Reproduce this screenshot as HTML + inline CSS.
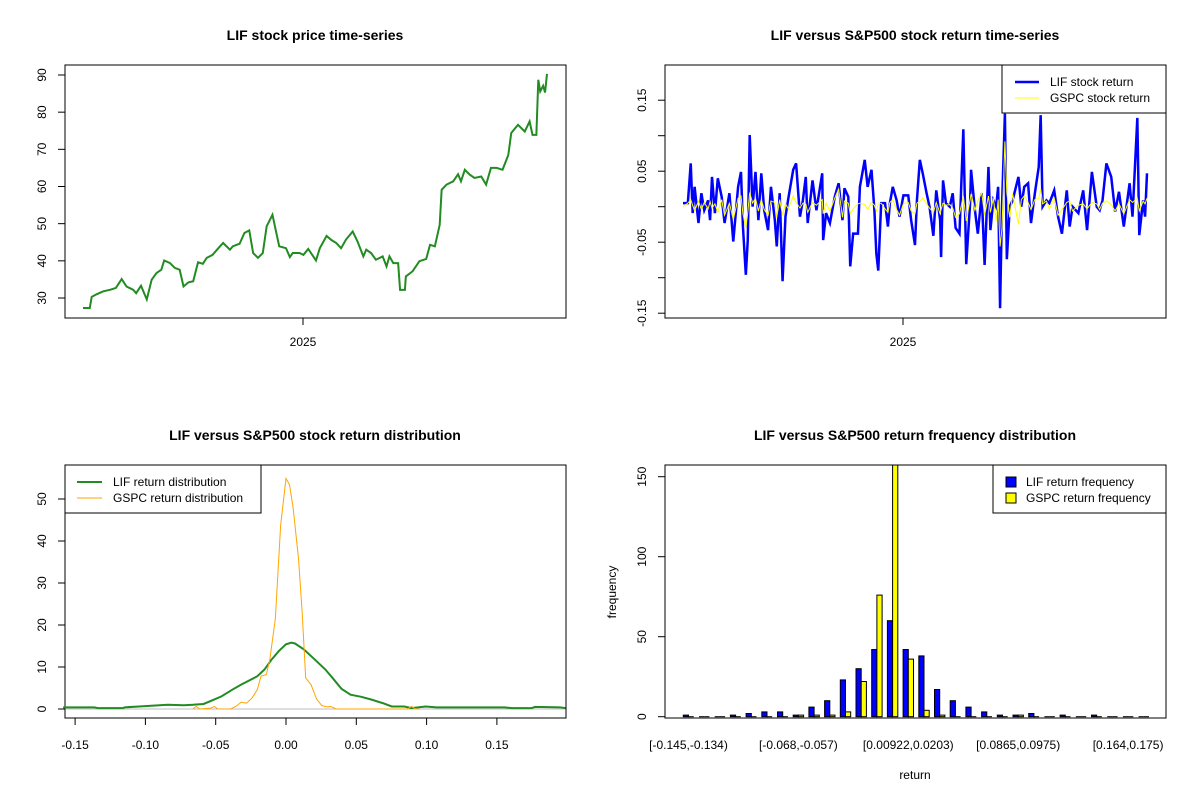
<!DOCTYPE html>
<html><head><meta charset="utf-8"><style>
html,body{margin:0;padding:0;background:#fff;}
svg{display:block;font-family:"Liberation Sans",Arial,sans-serif;}
</style></head><body>
<svg id="chart" width="1200" height="800" viewBox="0 0 1200 800" xmlns="http://www.w3.org/2000/svg"></svg>
<script>
// ---------- data ----------
const priceDay=[0,7,9,14,21,28,34,40,45,52,55,60,66,71,76,81,84,90,95,100,104,109,114,119,124,128,134,140,145,152,155,162,167,172,176,181,186,190,196,200,203,210,214,217,224,228,233,241,245,252,257,262,267,272,279,284,290,293,298,303,310,314,317,321,326,328,333,334,341,348,355,359,364,369,371,376,383,388,391,395,400,405,412,417,422,428,434,440,443,450,457,462,465,469,471,473,476,478,480];
const priceValue=[27.3,27.3,30.3,31,31.8,32.2,32.7,35.1,33.1,32.2,31.3,33.3,29.6,34.9,36.7,37.6,40.1,39.4,38.1,37.6,33.1,34.2,34.5,39.6,39.2,40.8,41.6,43.4,44.8,43.0,43.9,44.6,47.5,48.2,42.1,40.8,42.1,49.3,52.4,47.5,43.9,43.4,41.0,42.1,42.1,41.6,43.2,40.1,43.4,46.7,45.6,44.8,43.4,45.7,47.9,45.2,41.2,43.0,42.1,40.3,41.2,38.5,41.2,39.4,39.4,32.2,32.2,35.8,37.2,39.9,40.5,44.3,43.9,49.7,59.1,60.5,61.4,63.3,61.4,64.5,63.2,62.3,62.7,60.5,65,65,64.5,68.5,74.4,76.6,74.8,77.5,73.9,73.9,88.7,85.6,87.1,85.3,90.3];
const priceTicks=[30,40,50,60,70,80,90];
const retDay=[0,5,8,10,12,16,19,22,26,28,30,33,36,40,43,48,52,57,60,62,65,67,69,72,75,78,81,84,88,91,95,97,100,103,106,109,114,117,121,124,127,129,134,138,144,145,148,152,157,161,165,167,171,173,176,181,183,188,191,195,198,200,202,205,209,212,214,217,221,224,228,233,236,240,242,245,248,252,255,259,262,266,267,269,272,276,279,282,286,290,293,297,298,302,305,309,312,316,318,321,324,326,328,330,333,335,338,341,347,350,353,357,360,364,368,370,372,376,379,384,388,392,397,400,403,409,414,418,423,428,431,434,438,443,447,451,456,462,465,470,472,476,478,480];
const lifReturn=[.005,.005,.061,-.009,.028,-.023,.019,-.005,.009,-.019,.042,-.009,.040,.014,-.023,.019,-.049,.028,.049,-.028,-.096,-.047,.101,.000,.049,-.019,.047,-.005,-.033,.028,-.019,-.056,.019,-.105,-.014,.012,.052,.061,-.014,.009,.042,-.023,.037,-.005,.047,-.047,-.009,-.023,.014,.033,-.019,.026,.014,-.084,-.038,-.038,.028,.066,.028,.052,-.005,-.066,-.090,.005,.005,-.028,.005,.028,.009,-.014,.016,.016,-.019,-.054,.009,.066,.047,.019,.000,-.041,.023,-.019,-.071,.037,.005,.000,.019,-.030,-.038,.109,-.081,.005,.052,-.005,-.038,.019,-.082,.056,-.033,.009,.000,.028,-.143,.000,.131,-.074,.000,.009,.042,.000,.028,.033,-.023,.019,.056,.129,.000,.009,.005,.023,-.014,-.038,.023,-.028,.000,-.009,.023,-.033,.049,.000,-.005,.009,.061,.042,-.007,.021,-.028,.033,-.014,.125,-.040,.009,-.014,.047];
const gspcReturn=[.000,.005,.010,.002,-.006,.008,-.004,.006,-.003,.007,-.002,.004,-.008,.010,-.012,.005,-.018,.012,.015,-.010,-.030,-.008,.020,.005,.012,-.006,.010,-.004,-.012,.008,.006,-.015,.010,-.012,.004,-.003,.015,.006,-.002,.005,.004,-.008,.006,.002,.010,-.010,.005,-.006,.012,.025,-.015,.008,.005,-.010,-.003,.004,.005,.003,-.004,.006,.002,-.006,.004,.005,-.003,-.008,.006,.010,-.004,-.012,.004,.006,-.006,-.010,.005,.008,.012,.004,-.002,-.008,.006,-.010,-.004,.005,.002,.003,-.002,-.015,-.010,.015,-.020,.010,.018,-.005,.008,.020,-.012,.015,-.008,.012,-.020,.010,-.056,-.030,.092,.020,-.015,.018,-.025,.010,.015,.006,-.004,.010,.012,.025,.004,.008,-.003,.012,-.012,-.004,.006,.008,-.006,.002,.004,-.003,.006,.004,-.004,.005,.008,.003,-.006,.004,-.010,.010,.006,.012,-.006,.008,.004,.012];
const retTicks=[-0.15,-0.10,-0.05,0,0.05,0.10,0.15];
const retTickLabels=["-0.15","","-0.05","","0.05","","0.15"];
const lifDensX=[-0.1585,-0.1363,-0.1338,-0.116,-0.1147,-0.1045,-0.0943,-0.0841,-0.0726,-0.0663,-0.0586,-0.0522,-0.0459,-0.0382,-0.0319,-0.0255,-0.0204,-0.0153,-0.0102,-0.0051,0,0.0038,0.0064,0.0127,0.0204,0.0280,0.0331,0.0395,0.0459,0.0535,0.0612,0.0688,0.0752,0.0841,0.0892,0.0994,0.1070,0.1555,0.1606,0.1746,0.1771,0.1950,0.1988];
const lifDensY=[0.4,0.4,0.2,0.2,0.4,0.6,0.8,1.0,0.9,1.0,1.2,2.1,3.0,4.6,5.8,6.9,7.8,9.4,11.8,13.8,15.4,15.8,15.6,14.2,11.8,9.4,7.4,4.8,3.4,2.9,2.2,1.4,0.6,0.6,0.2,0.6,0.4,0.4,0.2,0.2,0.5,0.4,0.2];
const gspcDensX=[-0.0663,-0.0637,-0.0612,-0.0535,-0.0510,-0.0484,-0.0395,-0.0357,-0.0319,-0.0280,-0.0242,-0.0204,-0.0178,-0.0140,-0.0115,-0.0076,-0.0038,0,0.0025,0.0051,0.0089,0.0115,0.0140,0.0178,0.0217,0.0255,0.0293,0.0319,0.0357,0.0866,0.0892,0.0917,0.0943];
const gspcDensY=[0,0.6,0,0.2,0.6,0,0,0.6,1.6,1.4,2.6,4.6,7.8,8.2,11.8,21.4,43.8,54.9,53.4,47.8,35.8,23,7.4,5.8,2.4,0.8,0.5,0.6,0,0,0.6,0.1,0];
const densXTicks=[-0.15,-0.10,-0.05,0,0.05,0.10,0.15];
const densXLabels=["-0.15","-0.10","-0.05","0.00","0.05","0.10","0.15"];
const densYTicks=[0,10,20,30,40,50];
const binLabels=["[-0.145,-0.134)","[-0.068,-0.057)","[0.00922,0.0203)","[0.0865,0.0975)","[0.164,0.175)"];
const lifFreq=[1,0,0,1,2,3,3,1,6,10,23,30,42,60,42,38,17,10,6,3,1,1,2,0,1,0,1,0,0,0];
const gspcFreq=[0,0,0,0,0,0,0,1,1,1,3,22,76,165,36,4,1,0,0,0,0,1,0,0,0,0,0,0,0,0];
const freqTicks=[0,50,100,150];

// ---------- helpers ----------
const NS="http://www.w3.org/2000/svg";
const svg=document.getElementById('chart');
function add(tag,attrs,parent){const e=document.createElementNS(NS,tag);for(const k in attrs)e.setAttribute(k,attrs[k]);(parent||svg).appendChild(e);return e;}
function txt(s,x,y,size,opts,parent){const e=add('text',Object.assign({x:x,y:y,'font-size':size,'text-anchor':'middle',fill:'#000'},opts||{}),parent);e.textContent=s;return e;}
function lin(d0,d1,p0,p1){return v=>p0+(v-d0)*(p1-p0)/(d1-d0);}

// ---------- panel 1: price ----------
{
const g=add('g',{});


const xs=lin(0,480,83,547), ys=lin(30,90,298,75);
const t=txt('LIF stock price time-series',315,40,14,{'font-weight':'bold'},g);


const box=add('rect',{x:65,y:65,width:501,height:253,fill:'none',stroke:'#000','stroke-width':1},g);


priceTicks.forEach(v=>{
  const tk=add('line',{x1:58,x2:65,y1:ys(v),y2:ys(v),stroke:'#000'},g);
  
  
  const l=txt(String(v),0,0,12,{transform:`translate(46,${ys(v)}) rotate(-90)`},g);
  
  
});
const xt=add('line',{x1:303,x2:303,y1:318,y2:325,stroke:'#000'},g);


const xl=txt('2025',303,346,12,{},g);


const pts=priceDay.map((d,i)=>xs(d)+','+ys(priceValue[i])).join(' ');
const pl=add('polyline',{points:pts,fill:'none',stroke:'#228B22','stroke-width':2},g);


}

// ---------- panel 2: returns ----------
{
const g=add('g',{});


const xs=lin(0,480,683,1147), ys=lin(0,0.05,206.7,171.2);
const t=txt('LIF versus S&P500 stock return time-series',915,40,14,{'font-weight':'bold'},g);


const box=add('rect',{x:665,y:65,width:501,height:253,fill:'none',stroke:'#000'},g);


retTicks.forEach((v,i)=>{
  const tk=add('line',{x1:658,x2:665,y1:ys(v),y2:ys(v),stroke:'#000'},g);
  
  
  if(retTickLabels[i]){
    const l=txt(retTickLabels[i],0,0,12,{transform:`translate(646,${ys(v)}) rotate(-90)`},g);
    
    
  }
});
const xt=add('line',{x1:903,x2:903,y1:318,y2:325,stroke:'#000'},g);


const xl=txt('2025',903,346,12,{},g);


const p1=add('polyline',{points:retDay.map((d,i)=>xs(d)+','+ys(lifReturn[i])).join(' '),fill:'none',stroke:'#0000FF','stroke-width':2.5},g);


const p2=add('polyline',{points:retDay.map((d,i)=>xs(d)+','+ys(gspcReturn[i])).join(' '),fill:'none',stroke:'#FFFF00','stroke-width':1},g);


const lg=add('g',{},g);


add('rect',{x:1002,y:65,width:164,height:48,fill:'#fff',stroke:'#000'},lg);
const e1=add('line',{x1:1015,x2:1039,y1:82,y2:82,stroke:'#0000FF','stroke-width':2.5},lg);


const t1=txt('LIF stock return',1050,86,12,{'text-anchor':'start'},lg);


const e2=add('line',{x1:1015,x2:1039,y1:98,y2:98,stroke:'#FFFF00','stroke-width':1},lg);


const t2=txt('GSPC stock return',1050,102,12,{'text-anchor':'start'},lg);


}

// ---------- panel 3: density ----------
{
const g=add('g',{});


const xs=lin(0,0.05,286,356.3), ys=lin(0,50,709,499);
const t=txt('LIF versus S&P500 stock return distribution',315,440,14,{'font-weight':'bold'},g);


const box=add('rect',{x:65,y:465,width:501,height:253,fill:'none',stroke:'#000'},g);


densYTicks.forEach(v=>{
  const tk=add('line',{x1:58,x2:65,y1:ys(v),y2:ys(v),stroke:'#000'},g);
  
  
  const l=txt(String(v),0,0,12,{transform:`translate(46,${ys(v)}) rotate(-90)`},g);
  
  
});
densXTicks.forEach((v,i)=>{
  const tk=add('line',{x1:xs(v),x2:xs(v),y1:718,y2:725,stroke:'#000'},g);
  
  
  const l=txt(densXLabels[i],xs(v),749,12,{},g);
  
  
});
const base=add('line',{x1:66,x2:565,y1:ys(0),y2:ys(0),stroke:'#BEBEBE'},g);


const d1=add('polyline',{points:lifDensX.map((x,i)=>xs(x)+','+ys(lifDensY[i])).join(' '),fill:'none',stroke:'#228B22','stroke-width':2},g);


const d2=add('polyline',{points:gspcDensX.map((x,i)=>xs(x)+','+ys(gspcDensY[i])).join(' '),fill:'none',stroke:'#FFA500','stroke-width':1},g);


const lg=add('g',{},g);


add('rect',{x:65,y:465,width:196,height:48,fill:'#fff',stroke:'#000'},lg);
const e1=add('line',{x1:77,x2:102,y1:482,y2:482,stroke:'#228B22','stroke-width':2},lg);


const t1=txt('LIF return distribution',113,486,12,{'text-anchor':'start'},lg);


const e2=add('line',{x1:77,x2:102,y1:498,y2:498,stroke:'#FFA500','stroke-width':1},lg);


const t2=txt('GSPC return distribution',113,502,12,{'text-anchor':'start'},lg);


}

// ---------- panel 4: histogram ----------
{
const g=add('g',{});


const ys=lin(0,150,716.7,476.7);
const groupX=i=>683.3+i*15.7, bw=5.2;
const t=txt('LIF versus S&P500 return frequency distribution',915,440,14,{'font-weight':'bold'},g);


const clip=add('clipPath',{id:'histclip'},g);
add('rect',{x:665,y:465,width:501,height:253},clip);
const bars=add('g',{'clip-path':'url(#histclip)'},g);
function bar(x,v,color){
  if(v===0){
    return add('line',{x1:x,x2:x+bw,y1:ys(0),y2:ys(0),stroke:'#000','stroke-width':1},bars);
  }
  return add('rect',{x:x,y:ys(v),width:bw,height:ys(0)-ys(v),fill:color,stroke:'#000','stroke-width':1},bars);
}
lifFreq.forEach((v,i)=>{
  const b=bar(groupX(i),v,'#0000FF');
  
  
  const c=bar(groupX(i)+bw,gspcFreq[i],'#FFFF00');
  
  
});
const box=add('rect',{x:665,y:465,width:501,height:253,fill:'none',stroke:'#000'},g);


freqTicks.forEach(v=>{
  const tk=add('line',{x1:658,x2:665,y1:ys(v),y2:ys(v),stroke:'#000'},g);
  
  
  const l=txt(String(v),0,0,12,{transform:`translate(646,${ys(v)}) rotate(-90)`},g);
  
  
});
binLabels.forEach((s,k)=>{
  const l=txt(s,groupX(k*7)+bw,749,12,{},g);
  
  
});
const xt=txt('return',915,779,12,{},g);


const yt=txt('frequency',0,0,12,{transform:'translate(616,592) rotate(-90)'},g);


const lg=add('g',{},g);


add('rect',{x:993,y:465,width:173,height:48,fill:'#fff',stroke:'#000'},lg);
const s1=add('rect',{x:1006,y:477,width:10,height:10,fill:'#0000FF',stroke:'#000'},lg);


const t1=txt('LIF return frequency',1026,486,12,{'text-anchor':'start'},lg);


const s2=add('rect',{x:1006,y:493,width:10,height:10,fill:'#FFFF00',stroke:'#000'},lg);


const t2=txt('GSPC return frequency',1026,502,12,{'text-anchor':'start'},lg);


}
</script>
</body></html>
